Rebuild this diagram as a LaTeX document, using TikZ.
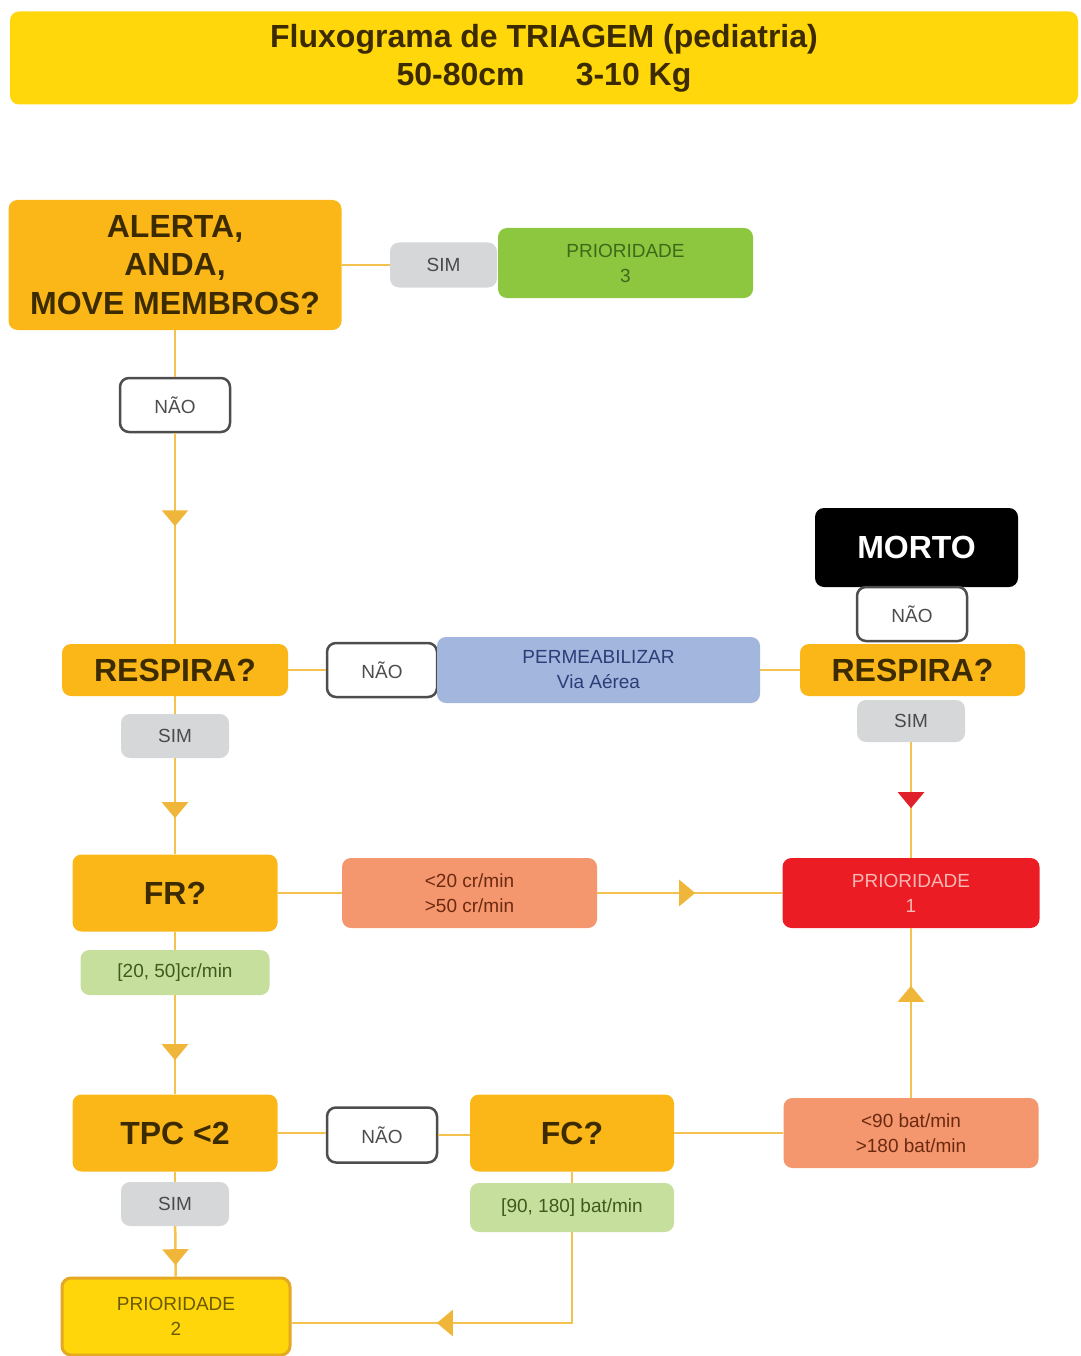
\documentclass[tikz,border=0pt]{standalone}
\usepackage{fontspec}
\setmainfont{Liberation Sans}
\usetikzlibrary{arrows.meta,decorations.markings}

\definecolor{titleyellow}{HTML}{FFD70A}
\definecolor{qorange}{HTML}{FBB718}
\definecolor{qtext}{HTML}{3D2B00}
\definecolor{simgrey}{HTML}{D6D7D9}
\definecolor{simtext}{HTML}{4A4A4A}
\definecolor{naoline}{HTML}{4D4D4D}
\definecolor{pthreegreen}{HTML}{8DC63F}
\definecolor{pthreetext}{HTML}{3C6B1A}
\definecolor{permblue}{HTML}{A2B6DE}
\definecolor{permtext}{HTML}{2B3E78}
\definecolor{salmon}{HTML}{F4966E}
\definecolor{salmontext}{HTML}{6B2A10}
\definecolor{ponered}{HTML}{EC1C24}
\definecolor{ponetext}{HTML}{F9B8B4}
\definecolor{lightgreen}{HTML}{C6DF9C}
\definecolor{lightgreentext}{HTML}{3E5B1F}
\definecolor{ptwoyellow}{HTML}{FFD60A}
\definecolor{ptwoborder}{HTML}{E5A823}
\definecolor{ptwotext}{HTML}{6B5A00}
\definecolor{linkgold}{HTML}{F3C250}
\definecolor{tipgold}{HTML}{F0B63A}
\definecolor{tipred}{HTML}{E0202A}

\begin{document}
\begin{tikzpicture}[x=1pt,y=-1pt,
  sz/.style 2 args={minimum width=#1, minimum height=#2},
  box/.style={rounded corners=9pt, align=center, inner sep=0pt},
  question/.style={box, fill=qorange, text=qtext,
    font={\fontsize{32}{38.5}\selectfont\bfseries}},
  small/.style={box, font={\fontsize{19}{25}\selectfont}},
  simbox/.style={small, fill=simgrey, text=simtext},
  naobox/.style={small, fill=white, draw=naoline, line width=2.5pt, text=naoline},
  link/.style={draw=linkgold, line width=2.5pt},
  midarrow/.style 2 args={postaction={decorate}, decoration={markings,
    mark=at position #1 with {\arrow{Triangle[width=26pt,length=16pt,color=#2]}}}}
]
\useasboundingbox (0,0) rectangle (1080,1356);

% title banner
\node[box, sz={1068pt}{93pt}, fill=titleyellow, text=qtext,
  font={\fontsize{32}{38}\selectfont\bfseries}] (title) at (544,58)
  {Fluxograma de TRIAGEM (pediatria)\\50-80cm\hspace{1.6em}3-10 Kg};

% first question
\node[question, sz={333pt}{130pt}] (alerta) at (175,265) {ALERTA,\\ANDA,\\MOVE MEMBROS?};
\node[simbox, sz={107pt}{45pt}] (simA) at (443.5,265) {SIM};
\node[small, sz={255pt}{70pt}, fill=pthreegreen, text=pthreetext] (pthree) at (625.5,263) {PRIORIDADE\\3};
\node[naobox, sz={110pt}{54pt}] (naoA) at (175,405) {NÃO};

% breathing row
\node[question, sz={226pt}{52pt}] (respA) at (175,670) {RESPIRA?};
\node[naobox, sz={110pt}{54pt}] (naoB) at (382,670) {NÃO};
\node[small, sz={323pt}{66pt}, fill=permblue, text=permtext] (perm) at (598.5,670) {PERMEABILIZAR\\Via Aérea};
\node[question, sz={225pt}{52pt}] (respB) at (912.5,670) {RESPIRA?};
\node[box, sz={203pt}{79pt}, fill=black, text=white,
  font={\fontsize{32}{38}\selectfont\bfseries}] (morto) at (916.5,547.5) {MORTO};
\node[naobox, sz={110pt}{54pt}] (naoC) at (912,614) {NÃO};
\node[simbox, sz={108pt}{42pt}] (simB) at (911,721) {SIM};
\node[simbox, sz={108pt}{44pt}] (simC) at (175,736) {SIM};

% respiratory rate row
\node[question, sz={205pt}{77pt}] (fr) at (175,893) {FR?};
\node[small, sz={255pt}{70pt}, fill=salmon, text=salmontext] (frout) at (469.5,893) {<20 cr/min\\>50 cr/min};
\node[small, sz={257pt}{70pt}, fill=ponered, text=ponetext] (pone) at (911,893) {PRIORIDADE\\1};
\node[small, sz={189pt}{45pt}, fill=lightgreen, text=lightgreentext] (frok) at (175,972.5) {[20, 50]cr/min};

% capillary refill and heart rate row
\node[question, sz={205pt}{77pt}] (tpc) at (175,1133) {TPC <2};
\node[naobox, sz={110pt}{55pt}] (naoD) at (382,1135) {NÃO};
\node[question, sz={204pt}{77pt}] (fc) at (572,1133) {FC?};
\node[small, sz={255pt}{70pt}, fill=salmon, text=salmontext] (fcout) at (911,1133) {<90 bat/min\\>180 bat/min};
\node[small, sz={204pt}{49pt}, fill=lightgreen, text=lightgreentext] (fcok) at (572,1207.5) {[90, 180] bat/min};
\node[simbox, sz={108pt}{44pt}] (simD) at (175,1204) {SIM};
\node[box, sz={228pt}{77pt}, fill=ptwoyellow, draw=ptwoborder, line width=3pt,
  text=ptwotext, font={\fontsize{19}{25}\selectfont}] (ptwo) at (176,1316.5) {PRIORIDADE\\2};
\coordinate (bend) at (572,1323);

% connectors
\draw[link] (alerta) -- (simA);
\draw[link] (alerta) -- (naoA);
\draw[link, midarrow={93pt}{tipgold}] (naoA) -- (respA);
\draw[link] (respA) -- (naoB);
\draw[link] (perm) -- (respB);
\draw[link] (respA) -- (simC);
\draw[link, midarrow={60pt}{tipgold}] (simC) -- (fr);
\draw[link, midarrow={66pt}{tipred}] (simB) -- (pone);
\draw[link] (fr) -- (frout);
\draw[link, midarrow={98pt}{tipgold}] (frout) -- (pone);
\draw[link] (fr) -- (frok);
\draw[link, midarrow={65pt}{tipgold}] (frok) -- (tpc);
\draw[link] (tpc.east) -- (tpc.east -| naoD.west);
\draw[link] (naoD.east) -- (naoD.east -| fc.west);
\draw[link] (fc) -- (fcout);
\draw[link, midarrow={112pt}{tipgold}] (fcout) -- (pone);
\draw[link] (tpc) -- (simD);
\draw[link, midarrow={39pt}{tipgold}] (simD) -- (ptwo);
\draw[link] (fc) -- (fcok);
\draw[link, midarrow={226pt}{tipgold}] (fcok) -- (bend) -- (bend -| ptwo.east);
\end{tikzpicture}
\end{document}
